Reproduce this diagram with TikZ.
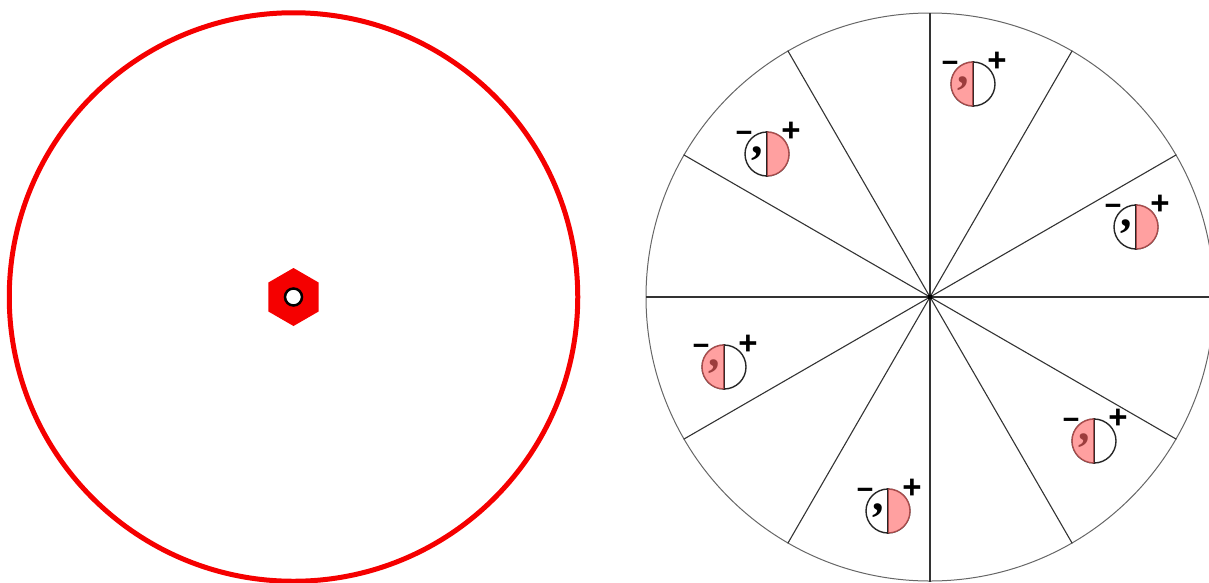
\documentclass[tikz,border=0pt]{standalone}
\usepackage{fontspec}
\setmainfont{Liberation Sans}
\newfontfamily\commafont{Liberation Serif}
\usetikzlibrary{shapes.geometric,calc}
\definecolor{ringred}{RGB}{245,0,0}
\definecolor{halfpink}{RGB}{255,100,100}
\tikzset{
  x=1pt,y=-1pt,
  ring/.style={draw=ringred,line width=5pt,circle,minimum size=568.5pt,inner sep=0pt},
  hexnut/.style={fill=ringred,regular polygon,regular polygon sides=6,shape border rotate=30,minimum size=58pt,inner sep=0pt},
  hole/.style={draw=black,fill=white,line width=2.5pt,circle,minimum size=17pt,inner sep=0pt},
  wheel/.style={draw=black!60,line width=1pt,circle,minimum size=568pt,inner sep=0pt},
  spoke/.style={draw=black!80,line width=1.1pt},
  hubdot/.style={fill=black,circle,minimum size=5pt,inner sep=0pt},
  badgeout/.style={draw=black!85,line width=1.4pt,fill=white,circle,minimum size=44pt,inner sep=0pt},
  bar/.style={draw=black!85,line width=1.5pt},
  halfveil/.style={fill=halfpink,fill opacity=.61},
  minustxt/.style={inner sep=0pt,font=\bfseries\fontsize{29}{29}\selectfont},
  plustxt/.style={inner sep=0pt,font=\bfseries\fontsize{33}{33}\selectfont},
  commatxt/.style={inner sep=0pt,font=\commafont\bfseries\fontsize{46}{46}\selectfont}
}
% #1 name, #2 x, #3 y, #4 = -1 pink on left, 1 pink on right
\newcommand{\badge}[4]{%
  \node[badgeout] (#1) at (#2,#3) {};
  \node[commatxt] (#1c) at (#2-9.5,#3) {,};
  \draw[bar] (#1.north) -- (#1.south);
  \fill[halfveil] (#1.north) arc[start angle=90,delta angle=#4*-180,radius=22.6pt] -- cycle;
  \node[minustxt] (#1m) at (#2-23,#3-17) {−};
  \node[plustxt] (#1p) at (#2+24,#3-22) {+};
}
\begin{document}
\begin{tikzpicture}
\useasboundingbox (0,0) rectangle (1209,582);
\node[ring] (outer) at (293.5,297) {};
\node[hexnut] (nut) at (293.5,297) {};
\node[hole] (bore) at (293.5,297) {};
\node[wheel] (rim) at (930,297) {};
\coordinate (hub) at (930,297);
\foreach \a in {0,30,...,330}{
  \draw[spoke] (hub) -- (rim.\a);
}
\node[hubdot] (hubmark) at (hub) {};
\badge{ba}{973}{84}{-1}
\badge{bb}{1136}{227}{1}
\badge{bc}{1094}{441}{-1}
\badge{bd}{888}{511}{1}
\badge{be}{724}{367}{-1}
\badge{bf}{767}{154}{1}
\end{tikzpicture}
\end{document}
